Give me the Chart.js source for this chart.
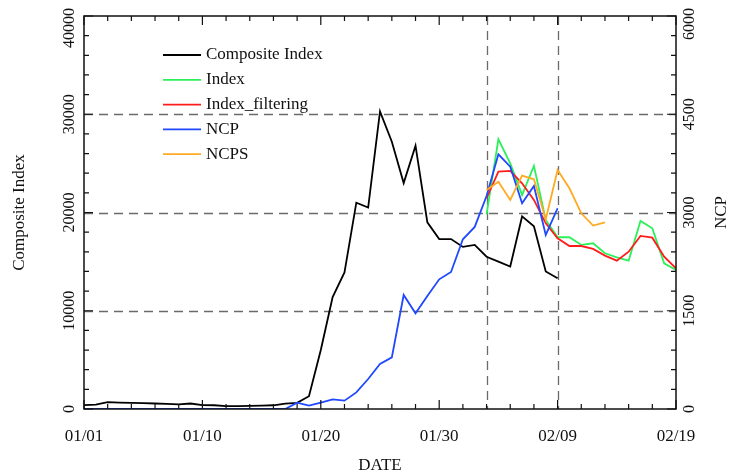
<!DOCTYPE html>
<html>
<head>
<meta charset="utf-8">
<script src="https://cdn.jsdelivr.net/npm/chart.js@4.4.1/dist/chart.umd.min.js"></script>
<style>
  html, body { margin: 0; padding: 0; background: #fff; }
  #wrap { width: 734px; height: 475px; }
</style>
</head>
<body>
<div id="wrap"><canvas id="myChart" width="734" height="475"></canvas></div>
<script>
// x axis runs 0..50 (one unit per day), labels as printed on the original
const xTickValues = [0, 10, 20, 30, 40, 50];
const xTickLabels = ['01/01', '01/10', '01/20', '01/30', '02/09', '02/19'];
const leftTicks = [0, 10000, 20000, 30000, 40000];
const rightTicks = [0, 1500, 3000, 4500, 6000];
const markerDays = [34, 40];

// Composite Index, from day 0
const composite = [400, 450, 700, 650, 620, 590, 560, 530, 480, 560,
    400, 380, 300, 300, 320, 350, 380, 550, 620, 1300,
    6000, 11400, 13900, 21000, 20500, 30300, 27200, 23000, 26800, 19000,
    17300, 17300, 16500, 16700, 15500, 15000, 14500, 19600, 18600, 14000,
    13300];

// NCP, from day 0 (right axis)
const ncp = [0, 0, 0, 0, 0, 0, 0, 0, 0, 0,
    0, 0, 0, 0, 0, 0, 0, 0, 96, 51,
    97, 148, 127, 254, 458, 687, 789, 1741, 1461, 1725,
    1980, 2092, 2591, 2780, 3252, 3889, 3700, 3141, 3405, 2657,
    3065];

// Index and Index_filtering start on day 34
const indexStart = 34;
const indexVals = [19800, 27450, 25000, 21790, 24740, 19240, 17480, 17480, 16700,
    16870, 15850, 15440, 15100, 19140, 18390, 14830, 14150];
const filteringVals = [21450, 24160, 24230, 22970, 21280, 18900, 17380, 16590, 16590,
    16290, 15610, 15100, 16010, 17610, 17440, 15500, 14320];

// NCPS starts on day 34 (right axis)
const ncpsStart = 34;
const ncpsVals = [3344, 3471, 3191, 3563, 3507, 2896, 3650, 3370, 2988, 2800, 2851];

function toPoints(vals, start) {
    return vals.map(function (v, i) { return { x: start + i, y: v }; });
}

const FONT = '"Liberation Serif", "DejaVu Serif", serif';

const series = [
    { label: 'Composite Index', data: toPoints(composite, 0), color: '#000000', axis: 'y' },
    { label: 'Index', data: toPoints(indexVals, indexStart), color: '#2cf05a', axis: 'y' },
    { label: 'Index_filtering', data: toPoints(filteringVals, indexStart), color: '#ff1c1c', axis: 'y' },
    { label: 'NCP', data: toPoints(ncp, 0), color: '#1f48ff', axis: 'y2' },
    { label: 'NCPS', data: toPoints(ncpsVals, ncpsStart), color: '#ffaa22', axis: 'y2' }
];

function dashedLine(ctx, x1, y1, x2, y2) {
    ctx.save();
    ctx.strokeStyle = '#6a6a6a';
    ctx.lineWidth = 1.3;
    ctx.setLineDash([9, 6]);
    ctx.beginPath();
    ctx.moveTo(x1, y1);
    ctx.lineTo(x2, y2);
    ctx.stroke();
    ctx.restore();
}

// vertical text reading bottom to top; kept inside the canvas top
function rotText(ctx, text, x, y) {
    const half = ctx.measureText(text).width / 2;
    if (y - half < 8) y = 8 + half;
    ctx.save();
    ctx.translate(x, y);
    ctx.rotate(-Math.PI / 2);
    ctx.textAlign = 'center';
    ctx.textBaseline = 'middle';
    ctx.fillText(text, 0, 0);
    ctx.restore();
}

const framePlugin = {
    id: 'frame',
    beforeDatasetsDraw: function (chart) {
        const ctx = chart.ctx, a = chart.chartArea;
        const x = chart.scales.x, y = chart.scales.y;
        [10000, 20000, 30000].forEach(function (v) {
            const py = Math.round(y.getPixelForValue(v)) + 0.5;
            dashedLine(ctx, a.left, py, a.right, py);
        });
        markerDays.forEach(function (d) {
            const px = Math.round(x.getPixelForValue(d)) + 0.5;
            dashedLine(ctx, px, a.top, px, a.bottom);
        });
    },
    afterDatasetsDraw: function (chart) {
        const ctx = chart.ctx, a = chart.chartArea;
        const x = chart.scales.x, y = chart.scales.y, y2 = chart.scales.y2;
        ctx.save();
        ctx.strokeStyle = '#111';
        ctx.lineWidth = 1.5;
        ctx.strokeRect(a.left, a.top, a.right - a.left, a.bottom - a.top);

        // inward ticks
        ctx.lineWidth = 1.2;
        ctx.beginPath();
        for (let v = 0; v <= 50; v += 2) {
            const px = x.getPixelForValue(v);
            const len = v % 10 === 0 ? 9 : 5;
            ctx.moveTo(px, a.bottom); ctx.lineTo(px, a.bottom - len);
            ctx.moveTo(px, a.top); ctx.lineTo(px, a.top + len);
        }
        for (let v = 0; v <= 40000; v += 2000) {
            const py = y.getPixelForValue(v);
            const len = v % 10000 === 0 ? 9 : 5;
            ctx.moveTo(a.left, py); ctx.lineTo(a.left + len, py);
        }
        for (let v = 0; v <= 6000; v += 300) {
            const py = y2.getPixelForValue(v);
            const len = v % 1500 === 0 ? 9 : 5;
            ctx.moveTo(a.right, py); ctx.lineTo(a.right - len, py);
        }
        ctx.stroke();

        // tick labels
        ctx.fillStyle = '#111';
        ctx.textAlign = 'center';
        ctx.textBaseline = 'middle';
        ctx.font = '17px ' + FONT;
        xTickValues.forEach(function (v, i) {
            ctx.fillText(xTickLabels[i], x.getPixelForValue(v), a.bottom + 28);
        });
        ctx.font = '16px ' + FONT;
        leftTicks.forEach(function (v) {
            rotText(ctx, String(v), a.left - 14, y.getPixelForValue(v));
        });
        rightTicks.forEach(function (v) {
            rotText(ctx, String(v), a.right + 14, y2.getPixelForValue(v));
        });

        // axis titles
        ctx.font = '17px ' + FONT;
        ctx.fillText('DATE', (a.left + a.right) / 2, a.bottom + 57);
        rotText(ctx, 'Composite Index', 20, (a.top + a.bottom) / 2);
        rotText(ctx, 'NCP', 722, (a.top + a.bottom) / 2);

        // legend
        ctx.textAlign = 'left';
        series.forEach(function (s, i) {
            const ly = 55 + i * 24.8;
            ctx.strokeStyle = s.color;
            ctx.lineWidth = 1.8;
            ctx.beginPath();
            ctx.moveTo(163, ly); ctx.lineTo(201, ly);
            ctx.stroke();
            ctx.fillText(s.label, 206, ly);
        });
        ctx.restore();
    }
};

var ctx = document.getElementById('myChart').getContext('2d');
var myChart = new Chart(ctx, {
    type: 'line',
    data: {
        datasets: series.map(function (s, i) {
            return {
                label: s.label,
                data: s.data,
                yAxisID: s.axis,
                borderColor: s.color,
                backgroundColor: s.color,
                borderWidth: 1.8,
                pointRadius: 0,
                tension: 0,
                fill: false,
                order: series.length - i
            };
        })
    },
    options: {
        responsive: false,
        animation: false,
        layout: { padding: { left: 84, right: 58, top: 16, bottom: 66 } },
        plugins: {
            legend: { display: false },
            tooltip: { enabled: false }
        },
        scales: {
            x: { type: 'linear', min: 0, max: 50, display: false },
            y: { type: 'linear', position: 'left', min: 0, max: 40000, display: false },
            y2: { type: 'linear', position: 'right', min: 0, max: 6000, display: false }
        }
    },
    plugins: [framePlugin]
});
</script>
</body>
</html>
